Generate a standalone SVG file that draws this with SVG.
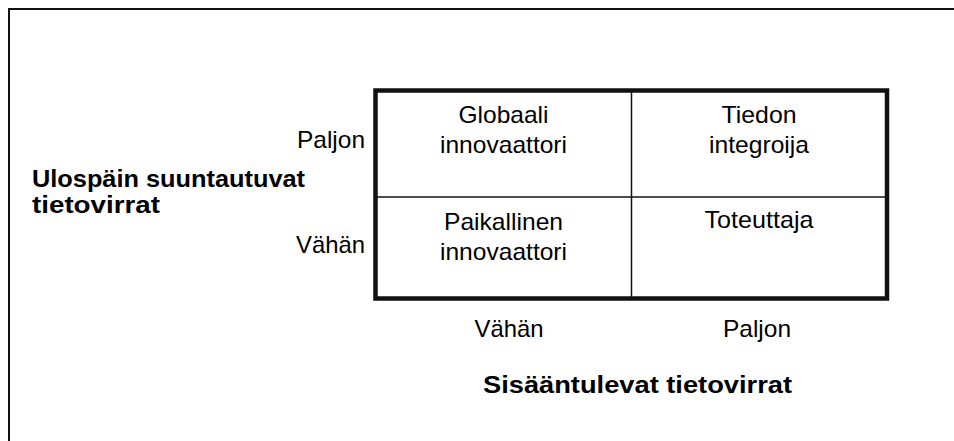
<svg xmlns="http://www.w3.org/2000/svg" width="954" height="441" viewBox="0 0 954 441">
  <style>
    .frame { fill: none; stroke: #111; stroke-width: 2; }
    .grid { fill: none; stroke: #111; stroke-width: 4.5; }
    .div { fill: none; stroke: #111; stroke-width: 1.5; }
    text { font-family: "Liberation Sans", Arial, sans-serif; font-size: 24px; fill: #000; }
    .c { text-anchor: middle; }
    .r { text-anchor: end; }
    .b { font-weight: bold; font-size: 23px; }
  </style>
  <rect width="954" height="441" fill="#fff"/>
  <path class="frame" d="M9 441 V9 H954"/>

  <!-- 2x2 matrix -->
  <g id="matrix">
    <rect class="grid" x="375.5" y="90.5" width="511.5" height="208"/>
    <line class="div" x1="631.5" y1="90.5" x2="631.5" y2="298.5"/>
    <line class="div" x1="375.5" y1="197" x2="887" y2="197"/>
  </g>

  <g id="cell-global">
    <text class="c" x="503.5" y="123" textLength="90" lengthAdjust="spacingAndGlyphs">Globaali</text>
    <text class="c" x="503.5" y="153" textLength="127" lengthAdjust="spacingAndGlyphs">innovaattori</text>
  </g>
  <g id="cell-integrator">
    <text class="c" x="759" y="123" textLength="75" lengthAdjust="spacingAndGlyphs">Tiedon</text>
    <text class="c" x="759" y="153" textLength="100" lengthAdjust="spacingAndGlyphs">integroija</text>
  </g>
  <g id="cell-local">
    <text class="c" x="503.5" y="230" textLength="119" lengthAdjust="spacingAndGlyphs">Paikallinen</text>
    <text class="c" x="503.5" y="260" textLength="127" lengthAdjust="spacingAndGlyphs">innovaattori</text>
  </g>
  <g id="cell-implementer">
    <text class="c" x="759" y="228" textLength="109" lengthAdjust="spacingAndGlyphs">Toteuttaja</text>
  </g>

  <!-- axis labels -->
  <g id="y-axis">
    <text class="r" x="365" y="148" textLength="68" lengthAdjust="spacingAndGlyphs">Paljon</text>
    <text class="r" x="365" y="253" textLength="69" lengthAdjust="spacingAndGlyphs">Vähän</text>
    <text class="b" x="32" y="187" textLength="273" lengthAdjust="spacingAndGlyphs">Ulospäin suuntautuvat</text>
    <text class="b" x="32" y="213" textLength="128" lengthAdjust="spacingAndGlyphs">tietovirrat</text>
  </g>
  <g id="x-axis">
    <text class="c" x="509" y="337" textLength="69" lengthAdjust="spacingAndGlyphs">Vähän</text>
    <text class="c" x="757" y="337" textLength="68" lengthAdjust="spacingAndGlyphs">Paljon</text>
    <text class="c b" x="637.5" y="393" textLength="309" lengthAdjust="spacingAndGlyphs" style="font-size:24px">Sisääntulevat tietovirrat</text>
  </g>
</svg>
